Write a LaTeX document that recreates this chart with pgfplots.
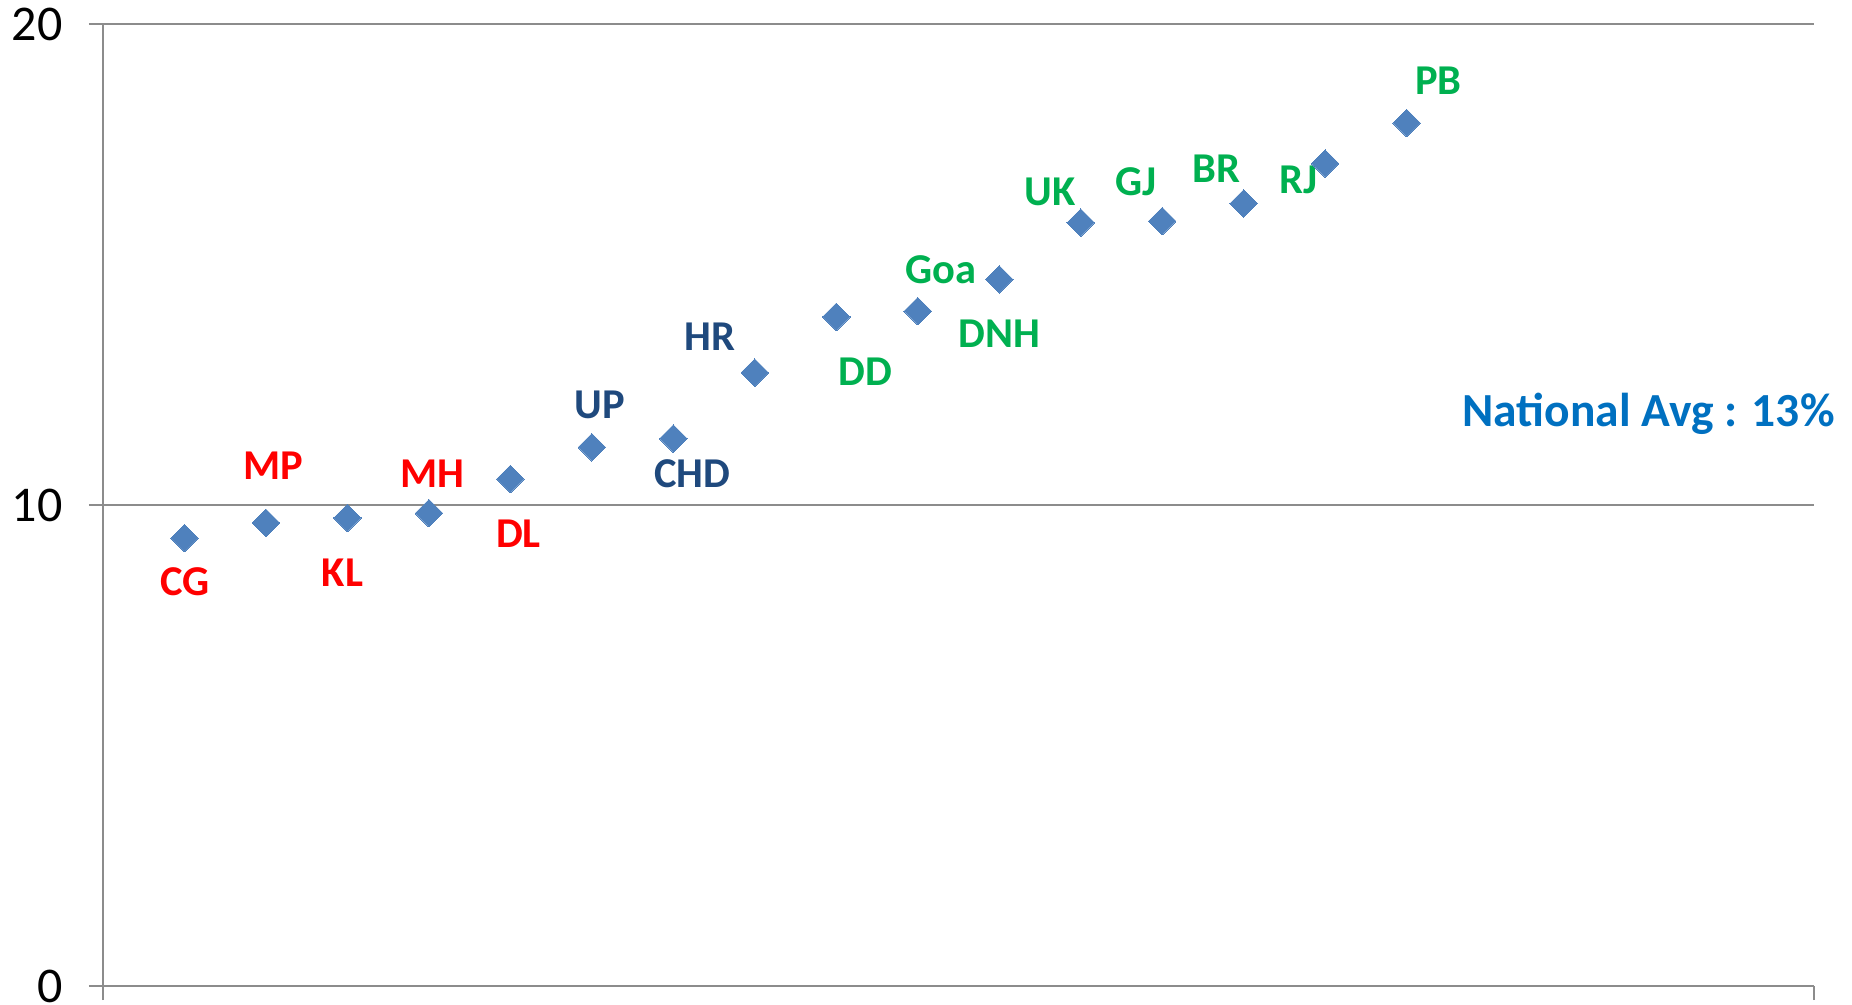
\documentclass[border=0pt]{standalone}
\usepackage{fontspec}
\setmainfont{Carlito}
\usepackage{pgfplots}
\pgfplotsset{compat=1.18}

\definecolor{ptblue}{HTML}{4F81BD}
\definecolor{gridgray}{HTML}{8C8C8C}
\definecolor{lowred}{HTML}{FF0000}
\definecolor{midnavy}{HTML}{1F497D}
\definecolor{highgreen}{HTML}{00B050}
\definecolor{avgblue}{HTML}{0070C0}

\begin{document}
\begin{tikzpicture}
\begin{axis}[
  at={(0,0)}, anchor=south west,
  width=684.4pt, height=384.8pt, scale only axis,
  xmin=0, xmax=21, ymin=0, ymax=20,
  axis x line*=bottom, axis y line*=left,
  axis line style={gridgray, line width=0.8pt},
  xtick={0,21}, xticklabels={},
  ytick={0,10,20},
  tick align=outside, major tick length=5.6pt,
  tick style={gridgray, line width=0.8pt},
  ymajorgrids, grid style={gridgray, line width=0.8pt},
  tick label style={font=\fontsize{20}{20}\selectfont},
  /pgf/number format/assume math mode=true,
  yticklabel style={anchor=east, xshift=-7pt},
  clip=false,
]
\addplot[only marks, color=ptblue, mark=square*, mark size=3.9pt,
  mark options={rotate=45, fill=ptblue, draw=ptblue, line width=0pt}] coordinates {
  (1,9.31) (2,9.63) (3,9.73) (4,9.83) (5,10.54) (6,11.20) (7,11.38) (8,12.75)
  (9,13.91) (10,14.03) (11,14.69) (12,15.87) (13,15.90) (14,16.27) (15,17.10) (16,17.94)
};
\begin{scope}[every node/.style={font=\bfseries\fontsize{17}{17}\selectfont}]
\node[text=lowred] at (axis cs:1.01,8.40) {CG};
\node[text=lowred] at (axis cs:2.09,10.81) {MP};
\node[text=lowred] at (axis cs:2.94,8.60) {KL};
\node[text=lowred] at (axis cs:4.04,10.64) {MH};
\node[text=lowred] at (axis cs:5.10,9.41) {DL};
\node[text=midnavy] at (axis cs:6.10,12.09) {UP};
\node[text=midnavy] at (axis cs:7.23,10.66) {CHD};
\node[text=midnavy] at (axis cs:7.45,13.49) {HR};
\node[text=highgreen] at (axis cs:9.36,12.78) {DD};
\node[text=highgreen] at (axis cs:10.28,14.89) {Goa};
\node[text=highgreen] at (axis cs:11.0,13.56) {DNH};
\node[text=highgreen] at (axis cs:11.62,16.51) {UK};
\node[text=highgreen] at (axis cs:12.68,16.73) {GJ};
\node[text=highgreen] at (axis cs:13.67,17.0) {BR};
\node[text=highgreen] at (axis cs:14.67,16.76) {RJ};
\node[text=highgreen] at (axis cs:16.39,18.82) {PB};
\end{scope}
\node[text=avgblue, font=\bfseries\fontsize{19}{19}\selectfont] at (axis cs:18.97,11.89) {National Avg : 13\%};
\end{axis}
\pgfresetboundingbox
\path (-41.2pt,-7.2pt) rectangle (699.6pt,394.4pt);
\end{tikzpicture}
\end{document}
